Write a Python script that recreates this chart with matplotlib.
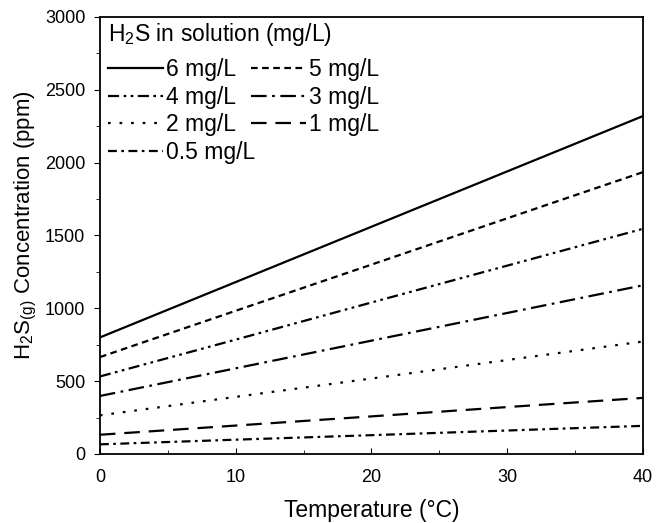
import matplotlib
matplotlib.use("Agg")
import matplotlib.pyplot as plt
from matplotlib.ticker import MultipleLocator

plt.rcParams['font.family'] = ['Liberation Sans', 'DejaVu Sans']
plt.rcParams['mathtext.fontset'] = 'custom'
plt.rcParams['mathtext.rm'] = 'Liberation Sans'
plt.rcParams['mathtext.it'] = 'Liberation Sans:italic'

temperature = [0, 10, 20, 30, 40]
labels = ['6 mg/L', '5 mg/L', '4 mg/L', '3 mg/L', '2 mg/L', '1 mg/L', '0.5 mg/L']
conc_6 = [800, 1180, 1560, 1940, 2320]
conc_5 = [665, 983, 1300, 1618, 1935]
conc_4 = [532, 785, 1040, 1293, 1546]
conc_3 = [398, 588, 778, 968, 1158]
conc_2 = [265, 392, 518, 645, 772]
conc_1 = [132, 195, 258, 322, 385]
conc_05 = [66, 98, 129, 161, 193]

series = [conc_6, conc_5, conc_4, conc_3, conc_2, conc_1, conc_05]
styles = ['-', (0, (3, 2)), (0, (5, 2, 1.2, 2, 1.2, 2)), (0, (7, 2.5, 1.2, 2.5)),
          (0, (1.2, 4)), (0, (7, 4)), (0, (4, 2, 1.2, 2))]

fig = plt.figure(figsize=(6.66, 5.23), dpi=100)
ax = fig.add_axes([0.150, 0.132, 0.8155, 0.8355])

handles = []
for vals, ls, lab in zip(series, styles, labels):
    h, = ax.plot(temperature, vals, color='black', linestyle=ls, linewidth=1.6, label=lab)
    handles.append(h)

ax.set_xlim(0, 40)
ax.set_ylim(0, 3000)
ax.xaxis.set_major_locator(MultipleLocator(10))
ax.xaxis.set_minor_locator(MultipleLocator(5))
ax.yaxis.set_major_locator(MultipleLocator(500))
ax.yaxis.set_minor_locator(MultipleLocator(250))
ax.tick_params(axis='x', which='both', direction='in', labelsize=13, pad=11)
ax.tick_params(axis='x', which='major', length=4)
ax.tick_params(axis='x', which='minor', length=3)
ax.tick_params(axis='y', which='both', direction='out', labelsize=13, pad=6)
ax.tick_params(axis='y', which='major', length=4.5)
ax.tick_params(axis='y', which='minor', length=3)
for s in ax.spines.values():
    s.set_linewidth(1.3)

ax.set_xlabel('Temperature (°C)', fontsize=16.5)
ax.xaxis.set_label_coords(0.5, -0.104)
ax.set_ylabel(r'H$\mathrm{_2}$S$\mathrm{_{(g)}}$ Concentration (ppm)', fontsize=16)
ax.yaxis.set_label_coords(-0.1125, 0.523)

# legend title drawn as plain text, entries below it
ax.text(0.0147, 0.960, r'H$\mathrm{_2}$S in solution (mg/L)', transform=ax.transAxes,
        fontsize=16.5, ha='left', va='center')

# matplotlib fills legend columns first, reorder so rows read 6,5 / 4,3 / 2,1 / 0.5
order = [0, 2, 4, 6, 1, 3, 5]
leg = ax.legend([handles[i] for i in order], [labels[i] for i in order],
                ncol=2, frameon=False, loc='upper left', fontsize=16.5,
                bbox_to_anchor=(0.0105, 0.911), borderaxespad=0,
                handlelength=2.4, handletextpad=0.15,
                columnspacing=-0.2, labelspacing=0.2, borderpad=0.1)

fig.savefig('out.png', dpi=100)
